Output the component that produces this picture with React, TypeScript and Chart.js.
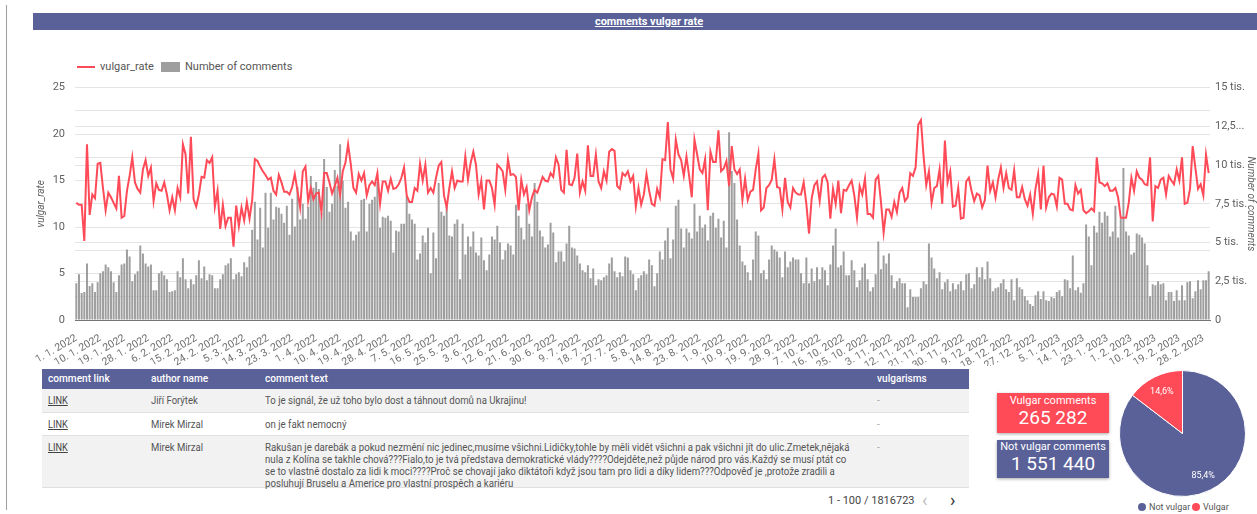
import React, { useEffect, useRef } from 'react';
import { Chart, registerables } from 'chart.js';

Chart.register(...registerables);

// ---------- DATA ----------
const startYear = 2022;
const startMonth = 1;
const startDay = 1;
const dayCount = 426;
const labelEvery = 9;

const commentCounts = [
  2370, 2950, 1750, 1800, 3650, 2200, 2370, 1800, 2440, 3010,
  3140, 3590, 3400, 3140, 2440, 1800, 2890, 3590, 3650, 4550,
  4100, 2500, 2950, 3140, 4810, 4300, 3650, 3460, 3590, 1920,
  1920, 3010, 3140, 2890, 2630, 1800, 1860, 1920, 3140, 2760,
  3980, 2630, 2050, 2630, 2310, 2890, 3850, 2690, 3460, 2560,
  2950, 2890, 2050, 2050,
  2630, 2950, 3530, 3650, 3980, 2630, 2950, 3080, 2820, 3720,
  3400, 4100, 5830, 7630, 5190, 7240, 4680, 8210, 5960, 8210,
  6480, 7310, 7240, 6860, 6280, 7370, 5510, 7820, 6030, 8590,
  6480, 7500, 6540, 7310, 9300, 8530, 8910, 8460, 6920, 10390,
  8590, 6990, 7500, 9680, 8660, 11350, 8980, 7240, 7630, 5710,
  5130, 5510, 5710, 7760, 7820,
  5710, 7500, 7760, 7950, 8910, 5960, 6670, 6600, 6730, 6410,
  4360, 5770, 5710, 6220, 6220, 8010, 6860, 6480, 6220, 3910,
  4300, 5450, 5000, 5960, 3010, 5640, 3980, 8850, 6990, 6730,
  7310, 5450, 5390, 6220, 6480, 2630, 6220, 4230, 5390, 4740,
  5710, 4360, 4170, 5320, 3850, 3210, 4230, 5390, 5190, 6090,
  5000, 3910, 4490, 4940,
  4810, 4230, 7440, 6730, 5960, 5190, 7500, 6220, 5390, 8850,
  7630, 5770, 5390, 4680, 4870, 6280, 5640, 3720, 4420, 4420,
  3780, 4940, 6090, 4680, 4620, 4170, 3650, 3210, 3080, 3530,
  2690, 3330, 2240, 2630, 2560, 2760, 2890, 3650, 4040, 3140,
  2760, 3080, 2820, 4100, 4040, 3210, 2950, 1920, 2690, 2890,
  3140, 2950, 3910, 3530,
  2180, 3010, 4420, 3910, 5130, 5960, 3980, 5190, 7370, 7760,
  5900, 4680, 5900, 5640, 5260, 7500, 5710, 6730, 5960, 6160,
  5130, 6730, 6920, 5960, 6540, 5320, 6410, 4680, 12120, 9620,
  8850, 6480, 4810, 3780, 3530, 3080, 2560, 3910, 5710, 5450,
  3010, 3210, 2630, 3910, 4810, 4550, 4420, 4040, 2760, 4420,
  3400, 3780, 4040, 3910,
  3910, 3010, 2370, 4040, 2370, 3330, 2500, 3400, 2630, 3400,
  3210, 2240, 3590, 4810, 5900, 3400, 3530, 4420, 2890, 2890,
  3850, 3210, 2120, 2560, 3400, 3650, 2630, 1860, 2120, 2950,
  5070, 3270, 4170, 3650, 4300, 2890, 2050, 2500, 2690, 2370,
  2370, 830, 1990, 1480, 1480, 1480, 2050, 2500, 2310, 4940,
  4040, 3330, 2690, 3080, 1990, 2440,
  2630, 1860, 2370, 1990, 2310, 2500, 1920, 2950, 3010, 2050,
  2310, 3400, 2760, 3400, 2630, 3780, 2690, 1860, 2050, 2120,
  2370, 2630, 1990, 1800, 2630, 1280, 2690, 2120, 1990, 1540,
  1280, 1030, 900, 1600, 1860, 1350, 1860, 1280, 1220, 1480,
  1410, 1800, 1920, 1540, 2630, 2560, 2050, 4170, 1920, 2120,
  1760, 2380, 6160, 5390, 3530, 6090, 5640, 6990, 6280, 6990,
  6730, 5390, 5710, 7370, 5320, 6540, 9810, 5710, 5450, 4230,
  4360, 5580, 5510, 5320, 4940, 3530, 1540, 2310, 2240, 2500,
  2310, 2370, 1280, 1800, 1800, 1220, 1920, 1280, 2240, 1280,
  2440, 2500, 1410, 1860, 2560, 1990, 2560, 2560, 3140,
];

const vulgarRate = [
  12.6, 12.4, 12.4, 8.5, 18.9, 11.3, 13.5, 13.1, 16.8, 16.9,
  14.2, 11.8, 13.7, 13.2, 12.6, 12.0, 15.5, 11.0, 11.2, 13.9,
  15.5, 17.5, 14.8, 14.1, 13.7, 16.2, 17.2, 15.5, 16.4, 12.8,
  14.7, 14.0, 13.9, 14.8, 13.5, 11.8, 13.2, 11.8, 14.2, 13.2,
  18.9, 17.8, 13.6, 19.7, 13.0, 12.2, 13.5, 15.4, 15.3, 17.2,
  16.9, 17.5, 12.2, 13.9,
  9.8, 12.4, 10.1, 11.0, 11.0, 7.9, 12.3, 10.1, 12.1, 10.7,
  12.7, 10.9, 12.9, 17.3, 17.1, 16.5, 16.0, 15.6, 15.1, 15.3,
  13.9, 13.5, 15.6, 14.8, 13.8, 13.8, 13.5, 14.3, 15.7, 13.9,
  12.1, 16.0, 16.5, 12.8, 14.2, 13.0, 13.6, 13.7, 11.6, 15.8,
  15.8, 14.8, 13.6, 14.4, 15.3, 13.5, 16.0, 16.9, 18.9, 16.8,
  14.2, 13.7, 15.7, 15.0, 15.8,
  13.4, 14.5, 14.9, 14.5, 15.8, 12.5, 14.9, 14.9, 13.9, 15.2,
  14.1, 14.2, 14.6, 15.3, 16.4, 13.4, 12.7, 12.7, 14.2, 13.9,
  16.8, 15.0, 16.7, 13.7, 14.2, 13.7, 15.3, 16.6, 17.0, 13.4,
  12.1, 14.2, 16.0, 14.2, 15.0, 14.9, 14.9, 17.6, 15.1, 16.9,
  18.1, 16.7, 13.5, 15.0, 11.9, 15.0, 15.0, 14.2, 12.4, 16.7,
  16.4, 16.0, 14.0, 17.3,
  15.6, 15.7, 15.4, 11.8, 15.1, 13.5, 14.3, 11.8, 13.2, 14.0,
  13.7, 14.5, 15.4, 15.0, 14.9, 15.8, 15.4, 17.5, 16.7, 14.0,
  13.7, 18.3, 14.6, 14.5, 15.3, 17.9, 13.7, 14.9, 13.9, 18.8,
  15.5, 15.5, 17.8, 14.9, 14.2, 16.0, 15.0, 18.1, 18.4, 18.2,
  14.4, 14.1, 15.8, 15.5, 16.0, 14.9, 15.5, 12.2, 14.2, 12.4,
  13.5, 15.7, 13.9, 12.5,
  12.3, 14.1, 13.2, 17.3, 17.2, 21.3, 16.2, 15.2, 19.4, 17.8,
  17.2, 15.5, 17.6, 15.5, 13.2, 19.4, 17.8, 16.2, 15.8, 17.3,
  11.8, 18.1, 17.0, 17.0, 20.4, 16.0, 16.3, 17.1, 14.4, 18.7,
  16.2, 15.7, 16.2, 12.9, 15.2, 12.9, 13.8, 14.0, 16.2, 17.9,
  11.8, 12.1, 14.2, 14.5, 15.1, 17.3, 14.3, 14.2, 11.9, 15.3,
  12.7, 12.1, 14.2, 13.7,
  13.5, 13.5, 14.8, 12.5, 9.3, 13.1, 14.5, 14.9, 12.8, 15.3,
  15.6, 14.8, 10.9, 14.1, 12.5, 15.0, 11.5, 14.0, 13.9, 14.5,
  15.0, 13.4, 11.0, 14.4, 13.5, 15.2, 11.4, 11.4, 11.0, 15.1,
  15.5, 12.7, 9.4, 11.9, 11.9, 11.1, 12.7, 11.6, 13.7, 14.2,
  12.8, 13.2, 15.8, 15.5, 16.4, 21.0, 21.5, 17.6, 14.5, 16.0,
  12.6, 14.2, 14.4, 16.2, 12.5, 19.3,
  14.8, 16.0, 12.2, 12.3, 14.2, 10.9, 11.0, 14.9, 15.3, 13.9,
  12.8, 13.6, 13.4, 12.1, 12.9, 16.6, 13.9, 14.8, 13.2, 15.1,
  16.4, 14.2, 15.8, 14.2, 14.0, 16.1, 13.2, 13.2, 14.3, 13.0,
  12.3, 13.5, 11.4, 14.1, 15.7, 11.9, 16.6, 12.1, 13.2, 13.6,
  13.5, 12.2, 15.3, 15.1, 12.5, 12.5, 11.9, 11.8, 14.5, 13.6,
  14.0, 11.8, 11.5, 11.7, 12.0, 11.7, 17.5, 14.8, 14.7, 14.4,
  14.7, 13.9, 13.9, 14.2, 13.2, 11.0, 11.0, 11.0, 12.6, 15.3,
  13.9, 16.0, 15.3, 15.1, 14.6, 14.5, 17.5, 10.6, 14.4, 14.2,
  15.1, 15.3, 13.5, 15.5, 15.0, 14.6, 16.2, 15.0, 17.5, 12.5,
  12.6, 14.1, 18.7, 16.4, 14.1, 14.6, 13.4, 17.8, 15.8,
];

const leftTickValues = [0, 5, 10, 15, 20, 25];
const rightTickLabels: Record<number, string> = {
  0: '0',
  2500: '2,5 tis.',
  5000: '5 tis.',
  7500: '7,5 tis.',
  10000: '10 tis.',
  12500: '12,5...',
  15000: '15 tis.',
};

const seriesNames = ['vulgar_rate', 'Number of comments'];
const chartTitle = 'comments vulgar rate';

const kpiVulgar = 265282;
const kpiNotVulgar = 1551440;
const pieLabels = ['Not vulgar', 'Vulgar'];
const pieValues = [kpiNotVulgar, kpiVulgar];

const tableColumns = ['comment link', 'author name', 'comment text', 'vulgarisms'];
const tableRows = [
  { link: 'LINK', author: 'Jiří Forýtek', text: ['To je signál, že už toho bylo dost a táhnout domů na Ukrajinu!'], vulg: '-' },
  { link: 'LINK', author: 'Mirek Mirzal', text: ['on je fakt nemocný'], vulg: '-' },
  {
    link: 'LINK',
    author: 'Mirek Mirzal',
    text: [
      'Rakušan je darebák a pokud nezmění nic jedinec,musíme všichni.Lidičky,tohle by měli vidět všichni a pak všichni jít do ulic.Zmetek,nějaká',
      'nula z Kolína se takhle chová???Fialo,to je tvá představa demokratické vlády????Odejděte,než půjde národ pro vás.Každý se musí ptát co',
      'se to vlastně dostalo za lidi k moci????Proč se chovají jako diktátoři když jsou tam pro lidi a díky lidem???Odpověď je ,protože zradili a',
      'posluhují Bruselu a Americe pro vlastní prospěch a kariéru',
    ],
    vulg: '-',
  },
];
const paginationText = '1 - 100 / 1816723';

// ---------- STYLE ----------
const BLUE = '#5a6199';
const RED = '#ff4a58';
const GRAY = '#9e9e9e';
const GRID = '#e4e4e4';
const TXT = '#616161';
const FONT = 'Roboto, "Noto Sans", sans-serif';

const categories: string[] = (() => {
  const out: string[] = [];
  const d = new Date(startYear, startMonth - 1, startDay);
  for (let i = 0; i < dayCount; i++) {
    out.push(`${d.getDate()}. ${d.getMonth() + 1}. ${d.getFullYear()}`);
    d.setDate(d.getDate() + 1);
  }
  return out;
})();

const fmtSpace = (n: number) => String(n).replace(/\B(?=(\d{3})+(?!\d))/g, ' ');

const pieLabelPlugin = {
  id: 'pieLabels',
  afterDatasetsDraw(chart: any) {
    const ctx = chart.ctx;
    const meta = chart.getDatasetMeta(0);
    const data = chart.data.datasets[0].data as number[];
    const total = data.reduce((a, b) => a + b, 0);
    ctx.save();
    ctx.fillStyle = '#ffffff';
    ctx.font = `9px ${FONT}`;
    ctx.textAlign = 'center';
    ctx.textBaseline = 'middle';
    meta.data.forEach((arc: any, i: number) => {
      const p = arc.getProps(['x', 'y', 'startAngle', 'endAngle', 'outerRadius']);
      const mid = (p.startAngle + p.endAngle) / 2;
      const r = p.outerRadius * 0.74;
      const txt = ((data[i] / total) * 100).toFixed(1).replace('.', ',') + '%';
      ctx.fillText(txt, p.x + Math.cos(mid) * r, p.y + Math.sin(mid) * r);
    });
    ctx.restore();
  },
};

function MainChart() {
  const ref = useRef<HTMLCanvasElement | null>(null);
  useEffect(() => {
    if (!ref.current) return;
    Chart.defaults.font.family = FONT;
    const chart = new Chart(ref.current, {
      type: 'bar',
      data: {
        labels: categories,
        datasets: [
          {
            type: 'line',
            label: seriesNames[0],
            data: vulgarRate,
            yAxisID: 'yRate',
            borderColor: RED,
            backgroundColor: RED,
            borderWidth: 2,
            pointRadius: 0,
            tension: 0,
            order: 0,
          } as any,
          {
            type: 'bar',
            label: seriesNames[1],
            data: commentCounts,
            yAxisID: 'yCount',
            backgroundColor: GRAY,
            barPercentage: 0.78,
            categoryPercentage: 0.96,
            order: 1,
          } as any,
        ],
      },
      options: {
        animation: false,
        responsive: false,
        maintainAspectRatio: false,
        layout: { padding: { top: 10 } },
        plugins: { legend: { display: false }, tooltip: { enabled: false } },
        scales: {
          x: {
            grid: { display: false, drawTicks: false },
            border: { color: '#757575', width: 1 },
            ticks: {
              autoSkip: false,
              minRotation: 30,
              maxRotation: 30,
              padding: 12,
              color: '#707070',
              font: { size: 10.5 },
              callback: (_v: any, i: number) => (i % labelEvery === 0 ? categories[i] : ''),
            },
            afterFit: (s: any) => {
              s.height = 46;
            },
          },
          yRate: {
            type: 'linear',
            position: 'left',
            min: 0,
            max: 25,
            grid: { color: GRID, drawTicks: false },
            border: { display: false },
            ticks: {
              stepSize: 2.5,
              padding: 10,
              color: TXT,
              font: { size: 11 },
              callback: (v: any) => (leftTickValues.includes(Number(v)) ? String(v) : ''),
            },
            title: {
              display: true,
              text: seriesNames[0],
              color: TXT,
              font: { size: 10, style: 'italic' },
              padding: { top: 25, bottom: 0 },
            },
            afterFit: (s: any) => {
              s.width = 65;
            },
          },
          yCount: {
            type: 'linear',
            position: 'right',
            min: 0,
            max: 15000,
            grid: { color: GRID, drawTicks: false },
            border: { display: false },
            ticks: {
              stepSize: 2500,
              padding: 5,
              color: TXT,
              font: { size: 11 },
              callback: (v: any) => rightTickLabels[Number(v)] ?? '',
            },
            title: {
              display: true,
              text: seriesNames[1],
              color: TXT,
              font: { size: 10, style: 'italic' },
              padding: { top: 1, bottom: 0 },
            },
            afterFit: (s: any) => {
              s.width = 47;
            },
          },
        },
      } as any,
    });
    return () => chart.destroy();
  }, []);
  return (
    <canvas
      ref={ref}
      width={1247}
      height={295}
      style={{ position: 'absolute', left: 10, top: 71, width: 1247, height: 295 }}
    />
  );
}

function PieChart() {
  const ref = useRef<HTMLCanvasElement | null>(null);
  useEffect(() => {
    if (!ref.current) return;
    const chart = new Chart(ref.current, {
      type: 'pie',
      data: {
        labels: pieLabels,
        datasets: [
          {
            data: pieValues,
            backgroundColor: [BLUE, RED],
            borderColor: '#ffffff',
            borderWidth: 1,
            hoverOffset: 0,
            offset: 0,
          } as any,
        ],
      },
      options: {
        animation: false,
        responsive: false,
        maintainAspectRatio: false,
        plugins: { legend: { display: false }, tooltip: { enabled: false } },
      } as any,
      plugins: [pieLabelPlugin],
    });
    return () => chart.destroy();
  }, []);
  return (
    <canvas
      ref={ref}
      width={127}
      height={127}
      style={{ position: 'absolute', left: 1119, top: 370, width: 127, height: 127 }}
    />
  );
}

const condensed = (scale: number, underline = false): React.CSSProperties => ({
  display: 'inline-block',
  transform: `scaleX(${scale})`,
  transformOrigin: '0 50%',
  whiteSpace: 'nowrap',
  textDecoration: underline ? 'underline' : 'none',
});

function Table() {
  const colX = [6, 109, 223, 835];
  const rowTops = [20, 44, 67];
  const rowHeights = [24, 23, 52];
  const rowBg = ['#f2f2f2', '#ffffff', '#f2f2f2'];
  return (
    <div style={{ position: 'absolute', left: 42, top: 369, width: 927, height: 120 }}>
      <div style={{ position: 'absolute', left: 0, top: 0, width: 927, height: 20, background: BLUE }} />
      {tableColumns.map((c, i) => (
        <div
          key={c}
          style={{
            position: 'absolute',
            left: colX[i],
            top: 0,
            height: 20,
            lineHeight: '20px',
            color: '#fff',
            fontSize: 11,
            fontWeight: 500,
          }}
        >
          <span style={condensed(0.92)}>{c}</span>
        </div>
      ))}
      {tableRows.map((r, ri) => (
        <div
          key={ri}
          style={{
            position: 'absolute',
            left: 0,
            top: rowTops[ri],
            width: 927,
            height: rowHeights[ri],
            background: rowBg[ri],
            borderBottom: '1px solid #e0e0e0',
            boxSizing: 'border-box',
            color: '#555',
            fontSize: 10,
          }}
        >
          <div style={{ position: 'absolute', left: colX[0], top: 6, lineHeight: '12px', color: '#444' }}>
            <span style={condensed(0.92, true)}>{r.link}</span>
          </div>
          <div style={{ position: 'absolute', left: colX[1], top: 6, lineHeight: '12px' }}>
            <span style={condensed(0.95)}>{r.author}</span>
          </div>
          <div style={{ position: 'absolute', left: colX[2], top: 6, lineHeight: '12px' }}>
            {r.text.map((t, ti) => (
              <div key={ti} style={{ height: 12 }}>
                <span style={condensed(0.965)}>{t}</span>
              </div>
            ))}
          </div>
          <div style={{ position: 'absolute', left: colX[3], top: 6, lineHeight: '12px', color: '#aaa' }}>{r.vulg}</div>
        </div>
      ))}
    </div>
  );
}

export default function App() {
  return (
    <div
      style={{
        position: 'absolute',
        left: 0,
        top: 0,
        width: 1257,
        height: 514,
        background: '#fff',
        overflow: 'hidden',
        fontFamily: FONT,
      }}
    >
      <div style={{ position: 'absolute', left: 6, top: 5, width: 1, height: 505, background: '#9e9e9e' }} />
      <div
        style={{
          position: 'absolute',
          left: 33,
          top: 13,
          width: 1224,
          height: 17,
          background: BLUE,
          color: '#fff',
          fontSize: 11,
          fontWeight: 700,
          lineHeight: '17px',
          textAlign: 'center',
          textDecoration: 'underline',
        }}
      >
        <span style={{ position: 'relative', left: 4 }}>{chartTitle}</span>
      </div>

      {/* legend */}
      <div style={{ position: 'absolute', left: 77, top: 66, width: 18, height: 2, background: RED }} />
      <div style={{ position: 'absolute', left: 100, top: 60, fontSize: 11, lineHeight: '14px', color: '#555' }}>{seriesNames[0]}</div>
      <div style={{ position: 'absolute', left: 161, top: 62, width: 19, height: 10, background: GRAY }} />
      <div style={{ position: 'absolute', left: 185, top: 60, fontSize: 11, lineHeight: '14px', color: '#555' }}>{seriesNames[1]}</div>

      <MainChart />
      <Table />

      <div style={{ position: 'absolute', left: 828, top: 494, fontSize: 11, lineHeight: '14px', color: '#444' }}>{paginationText}</div>
      <div style={{ position: 'absolute', left: 922, top: 490, fontSize: 18, lineHeight: '20px', color: '#bbb' }}>‹</div>
      <div style={{ position: 'absolute', left: 950, top: 490, fontSize: 18, lineHeight: '20px', color: '#333' }}>›</div>

      {/* KPIs */}
      <div
        style={{
          position: 'absolute',
          left: 997,
          top: 393,
          width: 112,
          height: 40,
          background: RED,
          color: '#fff',
          textAlign: 'center',
          boxShadow: '0 1px 3px rgba(0,0,0,0.35)',
        }}
      >
        <div style={{ fontSize: 11, lineHeight: '13px', marginTop: 1 }}>Vulgar comments</div>
        <div style={{ fontSize: 19, lineHeight: '22px' }}>{fmtSpace(kpiVulgar)}</div>
      </div>
      <div
        style={{
          position: 'absolute',
          left: 997,
          top: 440,
          width: 112,
          height: 38,
          background: BLUE,
          color: '#fff',
          textAlign: 'center',
          boxShadow: '0 1px 3px rgba(0,0,0,0.35)',
        }}
      >
        <div style={{ fontSize: 11, lineHeight: '13px', marginTop: 0 }}>Not vulgar comments</div>
        <div style={{ fontSize: 19, lineHeight: '22px' }}>{fmtSpace(kpiNotVulgar)}</div>
      </div>

      <PieChart />
      {/* pie legend */}
      <div style={{ position: 'absolute', left: 1138, top: 503, width: 8, height: 8, borderRadius: 4, background: BLUE }} />
      <div style={{ position: 'absolute', left: 1149, top: 501, fontSize: 9, lineHeight: '12px', color: '#555' }}>{pieLabels[0]}</div>
      <div style={{ position: 'absolute', left: 1192, top: 503, width: 8, height: 8, borderRadius: 4, background: RED }} />
      <div style={{ position: 'absolute', left: 1203, top: 501, fontSize: 9, lineHeight: '12px', color: '#555' }}>{pieLabels[1]}</div>
    </div>
  );
}
